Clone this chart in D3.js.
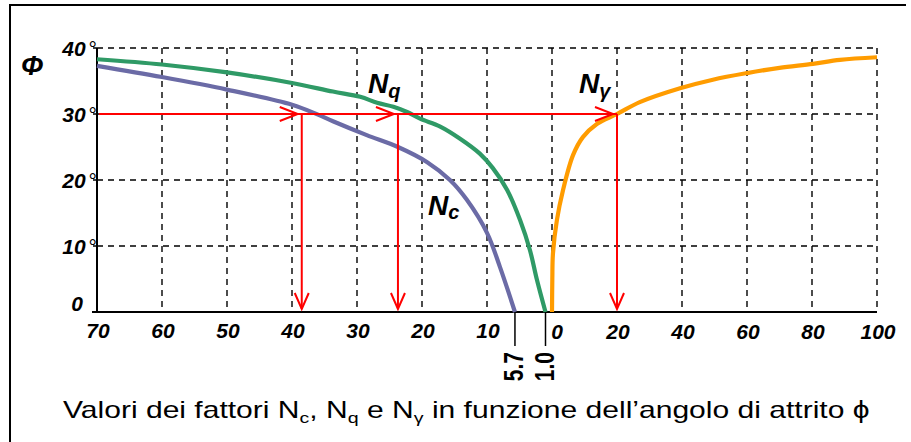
<!DOCTYPE html>
<html>
<head>
<meta charset="utf-8">
<script src="https://cdn.jsdelivr.net/npm/d3@7"></script>
<style>
  body { margin: 0; background: #fff; }
  svg { display: block; font-family: "Liberation Sans", Arial, sans-serif; }
</style>
</head>
<body>
<div id="container"></div>
<script>
// curve values: N factor and friction angle phi
const ncN   = [70, 60, 50, 40, 36, 33.7, 28.5, 23.7, 19.2, 15.7, 13.1, 10.0, 8.0, 5.7];
const ncPhi = [37.3, 35.6, 33.7, 31.4, 29.9, 28.9, 26.8, 25.0, 22.7, 20.0, 17.0, 12.0, 6.8, 0];

const nqN   = [70, 60, 50, 40, 33.7, 29.5, 26.9, 24.4, 22.3, 20.3, 17.2, 14.2, 11.1, 9.1, 6.9, 4.9, 3.4, 2.3, 1.0];
const nqPhi = [38.3, 37.5, 36.3, 34.7, 33.4, 32.6, 31.7, 31.1, 30.3, 29.3, 28.1, 26.3, 24.0, 21.8, 18.5, 13.9, 9.4, 4.8, 0];

const ngN   = [0, 0.1, 0.3, 1.5, 3.4, 6.5, 9.5, 13.8, 20, 27, 39.4, 49.5, 60, 70, 80.3, 88.6, 100];
const ngPhi = [0, 5, 8.9, 13.9, 18.5, 23.8, 26.5, 28.5, 30, 31.8, 33.9, 35.2, 36.2, 37.0, 37.6, 38.2, 38.6];

// axis ticks
const leftTicks  = [70, 60, 50, 40, 30, 20, 10];
const rightTicks = [0, 20, 40, 60, 80, 100];
const phiTicks   = [0, 10, 20, 30, 40];
const endTicks   = [5.7, 1.0];

// reading example at phi = 30
const phiRead = 30;
const readNc = 38.5, readNq = 23.7, readNg = 20;

const width = 911, height = 442;

const svg = d3.select('#container')
              .append('svg')
              .attr('width', width)
              .attr('height', height);

// scales: left half for Nc / Nq (70 -> 0), right half for N gamma (0 -> 100)
const xl = d3.scaleLinear().domain([70, 0]).range([97, 552]);
const xr = d3.scaleLinear().domain([0, 100]).range([552, 877]);
const y  = d3.scaleLinear().domain([0, 40]).range([312, 48]);

// frame (top and left only)
svg.append('path')
   .attr('d', 'M10,442V5H906')
   .attr('fill', 'none')
   .attr('stroke', '#000')
   .attr('stroke-width', 2);

// dashed grid
const grid = svg.append('g')
                .attr('stroke', '#000')
                .attr('stroke-width', 1.4)
                .attr('stroke-dasharray', '6,5');

phiTicks.filter(d => d > 0).forEach(d => {
    grid.append('line')
        .attr('x1', xl(70)).attr('x2', xr(100))
        .attr('y1', y(d)).attr('y2', y(d));
});
leftTicks.filter(d => d < 70).concat([0]).forEach(d => {
    grid.append('line')
        .attr('x1', xl(d)).attr('x2', xl(d))
        .attr('y1', y(40)).attr('y2', y(0));
});
rightTicks.filter(d => d > 0).forEach(d => {
    grid.append('line')
        .attr('x1', xr(d)).attr('x2', xr(d))
        .attr('y1', y(40)).attr('y2', y(0));
});

// axes lines
svg.append('line')
   .attr('x1', xl(70) - 5).attr('x2', xr(100))
   .attr('y1', y(0)).attr('y2', y(0))
   .attr('stroke', '#000').attr('stroke-width', 2);
svg.append('line')
   .attr('x1', xl(70)).attr('x2', xl(70))
   .attr('y1', y(40)).attr('y2', y(0))
   .attr('stroke', '#000').attr('stroke-width', 2);

phiTicks.filter(d => d > 0).forEach(d => {
    svg.append('line')
       .attr('x1', xl(70) - 4).attr('x2', xl(70))
       .attr('y1', y(d)).attr('y2', y(d))
       .attr('stroke', '#000').attr('stroke-width', 1.5);
});

// end ticks 5.7 and 1.0 below the axis
endTicks.forEach(d => {
    svg.append('line')
       .attr('x1', xl(d)).attr('x2', xl(d))
       .attr('y1', y(0)).attr('y2', y(0) + 34)
       .attr('stroke', '#000').attr('stroke-width', 1.5);
    svg.append('text')
       .attr('transform', `translate(${xl(d) + 8},${y(0) + 40}) rotate(-90) scale(1,1.3)`)
       .attr('text-anchor', 'end')
       .attr('font-size', 21)
       .attr('font-weight', 'bold')
       .text(d.toFixed(1));
});

// tick labels
const tickFont = (sel) => sel.attr('font-size', 21)
                             .attr('font-weight', 'bold')
                             .attr('font-style', 'italic')
                             .attr('fill', '#000');

leftTicks.forEach(d => {
    svg.append('text')
       .attr('x', xl(d) + 1).attr('y', y(0) + 26)
       .attr('text-anchor', 'middle')
       .call(tickFont)
       .text(d);
});
rightTicks.forEach(d => {
    svg.append('text')
       .attr('x', xr(d) + (d === 0 ? 5 : 1)).attr('y', y(0) + 27)
       .attr('text-anchor', 'middle')
       .call(tickFont)
       .text(d);
});
phiTicks.forEach(d => {
    const t = svg.append('text')
                 .attr('x', d === 0 ? 83 : 97)
                 .attr('y', d === 0 ? y(d) - 1 : y(d) + 8)
                 .attr('text-anchor', 'end')
                 .call(tickFont);
    if (d === 0) {
        t.text('0');
    } else {
        t.append('tspan').text(d);
        t.append('tspan').attr('dx', 3).attr('font-style', 'normal').attr('font-weight', 'normal').text('°');
    }
});

// Phi axis title
svg.append('text')
   .attr('x', 21).attr('y', 75)
   .attr('font-size', 27)
   .attr('font-weight', 'bold')
   .attr('font-style', 'italic')
   .text('Φ');

// curves
const lineL = d3.line().x(d => xl(d[0])).y(d => y(d[1])).curve(d3.curveCatmullRom.alpha(0.5));
const lineR = d3.line().x(d => xr(d[0])).y(d => y(d[1])).curve(d3.curveCatmullRom.alpha(0.5));

const curves = [
    { pts: d3.zip(ncN, ncPhi), line: lineL, color: '#6b6ba6' },
    { pts: d3.zip(nqN, nqPhi), line: lineL, color: '#2f9a66' },
    { pts: d3.zip(ngN, ngPhi), line: lineR, color: '#ff9c00' }
];

svg.selectAll('path.curve')
   .data(curves)
   .enter()
   .append('path')
   .attr('class', 'curve')
   .attr('d', d => d.line(d.pts))
   .attr('fill', 'none')
   .attr('stroke', d => d.color)
   .attr('stroke-width', 4.2)
   .attr('stroke-linecap', 'butt');

// red reading arrows
const red = svg.append('g')
               .attr('stroke', '#ff0000')
               .attr('stroke-width', 2)
               .attr('fill', 'none');

const y30 = y(phiRead);
red.append('line')
   .attr('x1', xl(70) + 2).attr('x2', xr(readNg))
   .attr('y1', y30).attr('y2', y30);

const drops = [xl(readNc), xl(readNq), xr(readNg)];
drops.forEach(x => {
    red.append('line')
       .attr('x1', x).attr('x2', x)
       .attr('y1', y30).attr('y2', y(0) - 3);
    // down chevron
    red.append('path')
       .attr('d', `M${x - 7},${y(0) - 19}L${x},${y(0) - 3}L${x + 7},${y(0) - 19}`);
    // right chevron on the horizontal line
    red.append('path')
       .attr('d', `M${x - 22},${y30 - 7}L${x - 4},${y30}L${x - 22},${y30 + 7}`);
});

// curve labels
const labels = [
    { x: 368, y: 93, sub: 'q', dy: 5 },
    { x: 579, y: 93, sub: 'γ', dy: 5 },
    { x: 428, y: 215, sub: 'c', dy: 4 }
];
labels.forEach(l => {
    const t = svg.append('text')
                 .attr('x', l.x).attr('y', l.y)
                 .attr('font-size', 28)
                 .attr('font-weight', 'bold')
                 .attr('font-style', 'italic');
    t.append('tspan').text('N');
    t.append('tspan').attr('font-size', 20).attr('dy', l.dy).text(l.sub);
});

// caption
const cap = svg.append('text')
               .attr('x', 0).attr('y', 0)
               .attr('font-size', 23)
               .attr('fill', '#000');
const capParts = [
    ['Valori dei fattori N', 0], ['c', 1], [', N', 0], ['q', 1], [' e N', 0], ['γ', 1],
    [' in funzione dell’angolo di attrito ϕ', 0]
];
let shifted = false;
capParts.forEach(p => {
    const s = cap.append('tspan').text(p[0]);
    if (p[1] && !shifted) { s.attr('font-size', 15).attr('dy', 5); shifted = true; }
    else if (!p[1] && shifted) { s.attr('dy', -5); shifted = false; }
});
const bb = cap.node().getBBox();
cap.attr('transform', `translate(${63 - bb.x * 807 / bb.width},418) scale(${807 / bb.width},1)`);
</script>
</body>
</html>
